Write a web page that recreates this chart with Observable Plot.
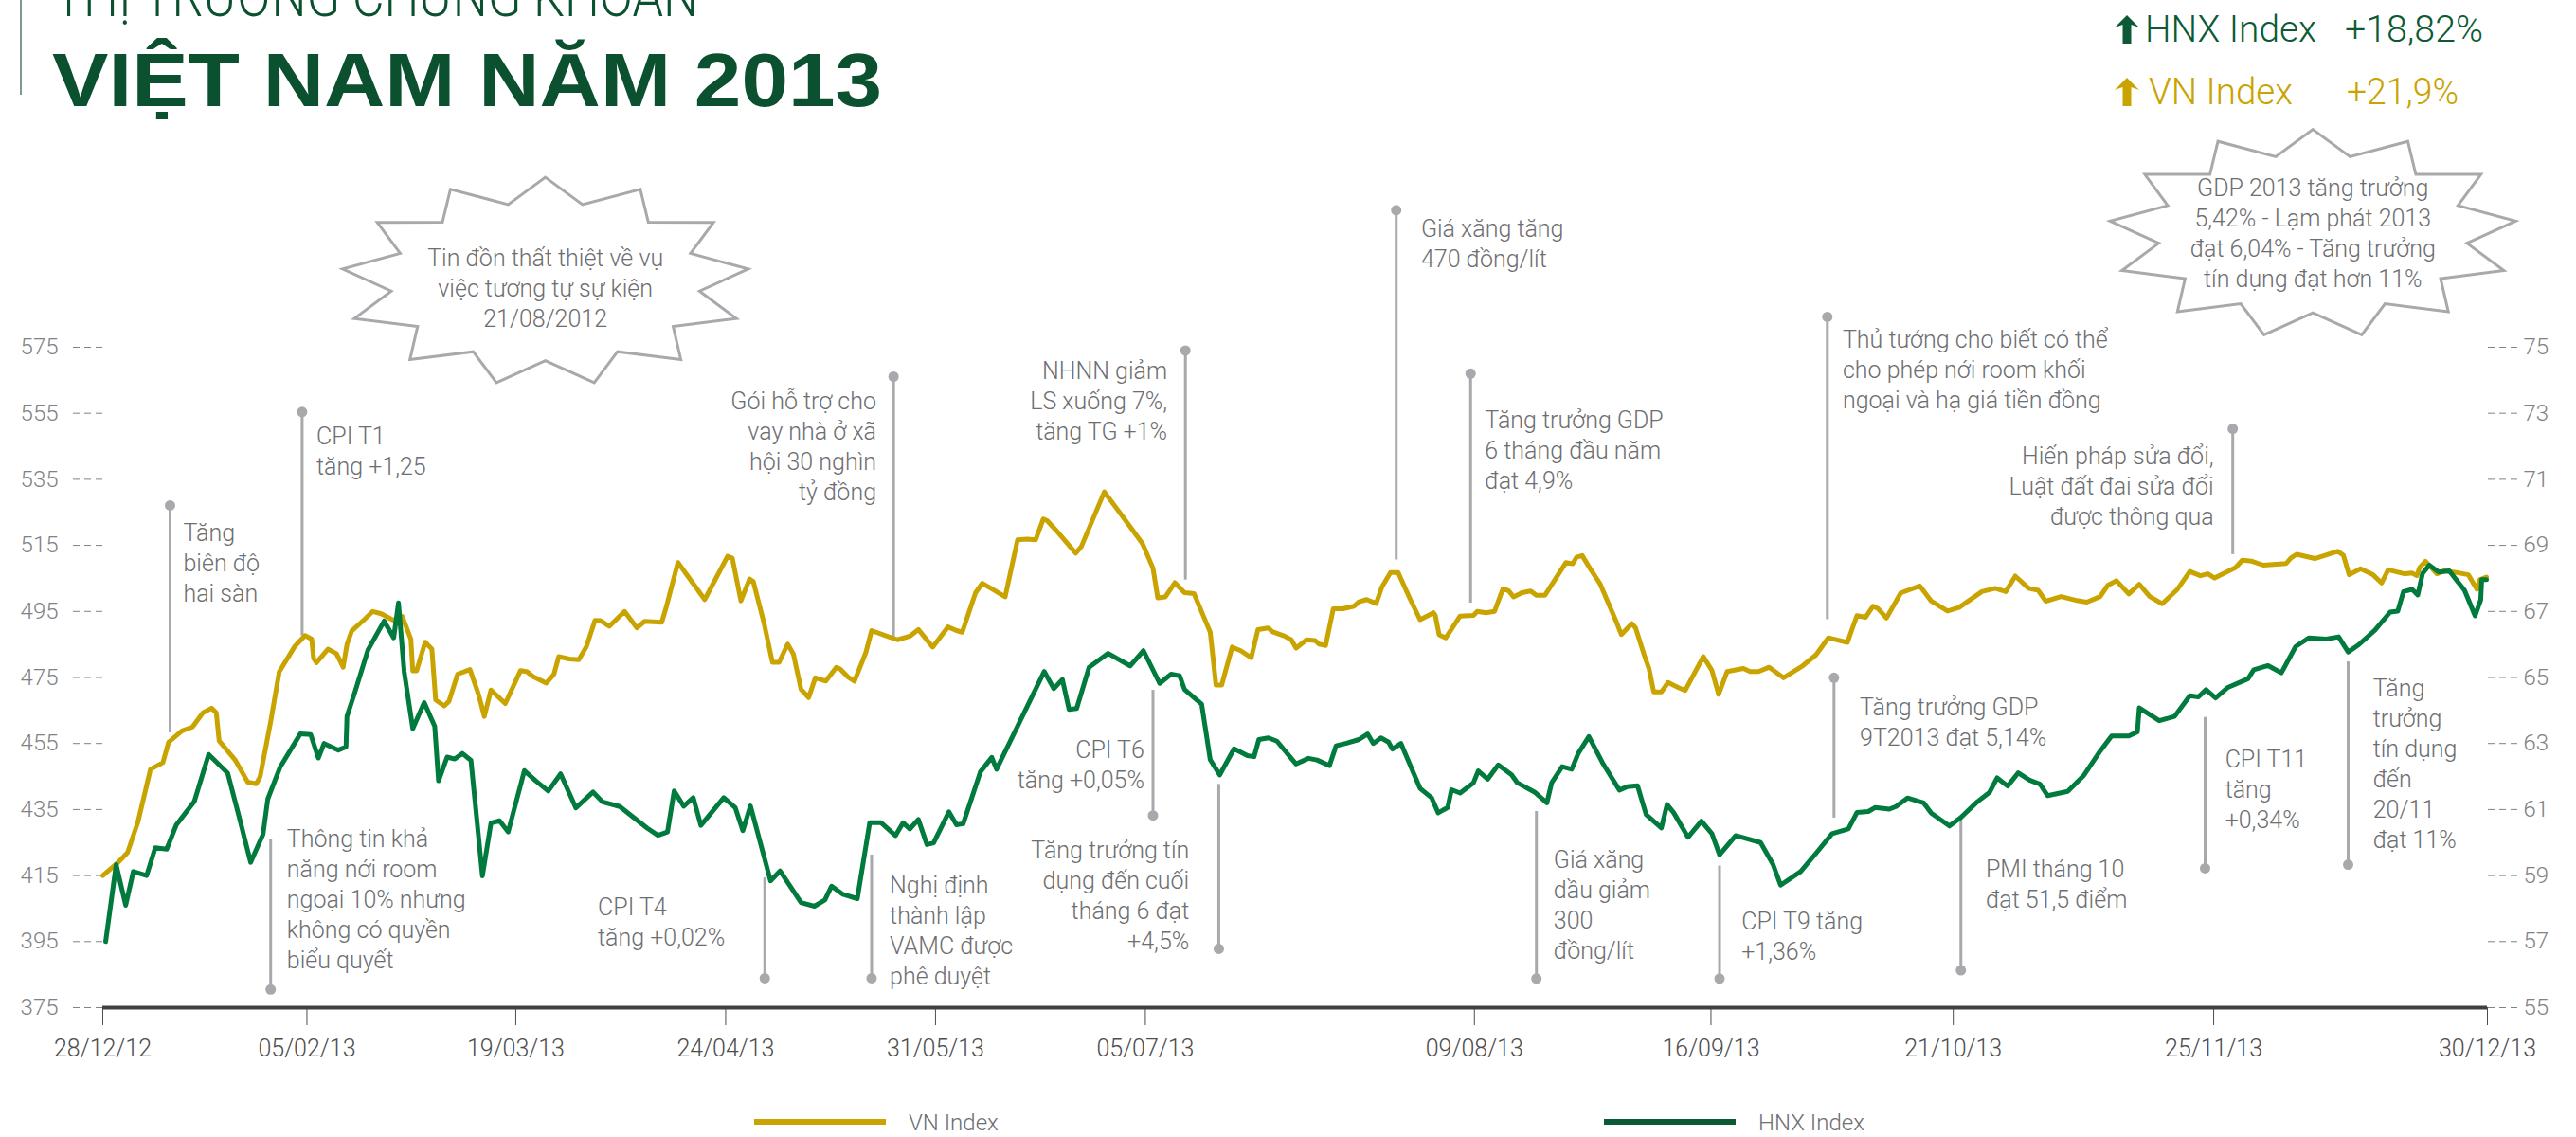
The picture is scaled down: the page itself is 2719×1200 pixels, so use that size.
<!DOCTYPE html>
<html><head><meta charset="utf-8">
<script src="https://cdn.jsdelivr.net/npm/d3@7"></script>
<script src="https://cdn.jsdelivr.net/npm/@observablehq/plot@0.6"></script>
<style>
html,body{margin:0;padding:0;background:#fff;width:2719px;height:1200px;overflow:hidden;}
#wrap{position:relative;width:2719px;height:1200px;}
#chart{position:absolute;left:0;top:0;}
#overlay{position:absolute;left:0;top:0;}
</style></head>
<body><div id="wrap"><div id="chart"></div>
<svg id="overlay" width="2719" height="1200" xmlns="http://www.w3.org/2000/svg"></svg></div>
<script>
// ---- axis data ----
const tickPos = [0, 21.4, 43.3, 65.3, 87.3, 109.3, 143.8, 168.6, 194, 221.3, 250];
const tickLabels = ["28/12/12","05/02/13","19/03/13","24/04/13","31/05/13","05/07/13","09/08/13","16/09/13","21/10/13","25/11/13","30/12/13"];
const yTicks = [375,395,415,435,455,475,495,515,535,555,575];

// ---- VN Index (session position, value) ----
const vnPos = [0,1.5,2.6,3.7,5,6.3,6.9,8.3,9.4,10.5,11.4,11.9,12.2,13.9,15.2,16.1,16.5,17.6,18.5,20.1,21.2,21.9,22.1,22.4,23.6,24.5,25.2,25.6,26.1,27.4,28.3,29.2,30.5,31.4,32.3,32.5,32.9,33.8,34.5,34.9,35.8,36.3,37.2,38.5,39.4,40,40.7,42.2,43.8,44.5,45.1,46.5,47.3,47.8,48.9,49.9,50.7,51.6,52.2,53.1,
54.7,56,56.8,58.6,59.1,60.3,63.1,65.5,66,66.9,67.8,68.2,69.3,70.2,70.9,71.8,72.4,73.2,74,74.7,75.8,76.9,77.3,78.1,78.8,80,80.6,82.2,83.3,84.6,85.5,87,88.6,89.5,90.1,91.5,92.2,93.4,94.6,95.9,96.9,97.8,98.6,99,99.9,102,102.6,105,107,109,110.1,110.6,111.4,112.4,113.4,114.4,116.1,116.4,116.7,117.3,118.4,
119.3,120.4,121.1,122.2,122.6,123.9,124.6,125.1,126.2,127.1,127.5,128.2,129,130,131.2,131.7,132.5,133.5,134.1,135,135.8,137,138.1,139.5,139.7,140.1,140.8,142.3,143.7,144.1,145,145.9,146.8,147.4,147.9,148.8,149.7,150.3,151.2,153.4,154.1,154.5,155.1,155.9,157,158.7,159.2,160.3,160.7,161.6,162.1,162.6,163.4,164.1,165.2,165.9,167.8,168.7,169.4,170.3,172,172.7,173.6,174.7,176.2,178.2,179.6,180.9,182.9,
183.4,183.9,184.8,185.6,186.1,187,188.5,190.5,191.7,193.4,194.6,197,198.4,199.5,200.5,201.9,202.9,203.7,205.3,206.8,208,209.4,210.2,211.1,212.4,213.5,214.6,215.9,217.5,218.8,219.9,220.7,221.4,223.6,224.3,225.3,226.5,228.9,229.4,230,231.9,234.3,234.9,235.5,236.7,238,238.9,239.6,241.3,242.1,242.6,242.9,243.5,244.7,245.5,246.7,248,248.9,249.2,249.9];
const vnValue = [415,418.7,422,431.4,447.2,449.2,455.4,458.8,460,464.3,465.7,464.3,455.8,449.9,443.3,442.8,445,461.6,476.7,484.3,487.7,486.6,480.8,479.5,483.6,482.2,478.1,485,489.1,492.5,495,494.3,492.3,493.5,486.6,477,477,485.7,483.6,468.2,466.4,467.8,476,477.4,469.8,463.2,471.2,467.1,477.1,476.7,475.3,473.3,476,481.3,480.6,480.4,484.3,492.3,492.2,490.5,
495,490,492,491.7,496.6,509.8,498.6,511.7,511.1,498.2,504.8,504,491.7,479.6,479.6,485.1,482.1,471.4,468.9,474.9,473.9,478.1,477.6,475.2,473.9,482.6,489.2,487.5,486.4,487.5,489.5,484.2,490.3,489.2,488.7,500.7,503.5,501.5,499.4,516.7,516.9,516.7,523,522.5,519.7,512.6,514.7,531.2,523.4,515.5,508.1,499.1,499.4,503.7,500.7,500.4,488.7,480.9,472.7,472.7,484.2,
483.1,481,489.5,490,488.9,487.5,486.4,483.9,486.4,486.2,485.1,484.7,495.8,495.8,496.6,497.9,498.6,497.4,502.4,506.8,506.8,499.1,492.5,494.6,493.8,487.9,487,493.6,493.8,495,494.6,495,501.9,501.2,499.4,500.7,501.2,499.9,499.9,509.8,509.4,511.4,511.9,508.1,503.2,491.7,488,491.3,490,481.8,477.7,470.6,470.6,473.5,471.9,471.1,481.3,477.1,469.9,476.8,477.7,476.8,476.8,478.1,474.9,478.5,481.8,487,485.6,
489.7,493.7,493.2,496.6,495.9,493,500.6,502.7,498.1,495.1,496.2,501,502,501,505.7,502,501.4,498.1,499.5,498.4,497.8,499.5,502.9,504.3,500.3,503.2,499.5,497.3,501.7,507.1,505.8,506.4,505.1,508.3,510.5,510.2,509,509.5,511.2,512.3,511,513.2,512,506.1,507.9,506.1,503.6,507.6,506.4,506.6,505.8,508.3,510.2,506.4,507.3,506.8,506.1,501.7,504.6,505.4];

// ---- HNX Index (session position, value) ----
const hnxPos = [0.3,1.4,2.4,3.2,4.6,5.5,6.7,7.7,9.6,11.1,13.1,14.3,15.5,16.8,17.3,18.6,20.7,21.8,22.6,23.2,24.7,25.5,25.6,26.5,27.8,29.5,30.5,31,31.6,32.5,33.7,34.8,35.2,36.1,36.9,37.7,38.6,39.8,40.7,41.6,42.5,44.2,45.4,46.7,48,49.6,51.4,52.4,54.2,57.1,58.2,
59.2,59.9,60.9,61.9,62.7,65.1,66.3,67.1,67.9,70,71,73.2,74.6,75.7,76.4,77.6,79.1,80.4,81.6,83.1,83.9,84.6,85.5,86.4,87.1,88.7,89.5,90.2,92,93.2,93.7,98.7,99.7,100.6,101.3,102.1,103.4,105.4,107.7,109.1,110.8,112,112.9,113.4,115.2,115.6,116.1,117.1,118.6,
120,120.7,121.2,122.2,123.1,125.1,126.4,127.3,128.6,129.3,130.4,131.7,132.6,133.2,134,134.8,135.2,136.1,138.1,139.3,140,141,141.4,142.3,143.7,144.2,145.2,146.3,147.7,148.3,150.1,151.4,151.9,153,154,154.7,155.8,157.3,159,159.8,160.9,161.8,163.4,164,164.7,166.2,167.6,168.7,169.5,171.2,173.8,175.1,175.9,178,179.6,181.3,183,
183.9,185.1,185.8,187.3,188,189.2,190.9,191.7,193.6,194.8,196.5,197.8,198.6,199.7,200.8,202,203.1,203.9,206,207.7,209.4,210.6,212.4,213.3,213.5,215.6,217.2,218.8,219.7,220.5,221.5,222.8,224.9,225.5,227,228.4,229.9,231.3,233.1,234.4,235.4,236.5,238.2,239.8,240.6,241.2,242.1,242.7,243.2,243.9,244.9,246,247.6,248.7,249.3,249.4,249.9];
const hnxValue = [57,59.33,58.1,59.12,59,59.84,59.8,60.53,61.25,62.67,62.1,60.77,59.4,60.25,61.32,62.29,63.29,63.27,62.56,63,62.8,62.9,63.82,64.62,65.83,66.71,66.2,67.26,65.17,63.45,64.24,63.52,61.87,62.59,62.53,62.7,62.49,58.99,60.59,60.66,60.32,62.18,61.87,61.56,62.08,61.05,61.53,61.23,61.09,60.43,60.22,
60.32,61.56,61.1,61.36,60.52,61.36,61.06,60.36,61.11,58.84,59.14,58.18,58.07,58.26,58.68,58.43,58.3,60.6,60.6,60.21,60.6,60.41,60.7,59.94,59.99,60.93,60.54,60.57,62.14,62.58,62.22,65.18,64.66,64.94,64.03,64.06,65.31,65.73,65.35,65.81,64.82,65.1,65.05,64.64,64.19,63.45,62.51,62.05,62.84,
62.63,62.6,63.12,63.17,63.07,62.38,62.55,62.5,62.33,62.93,63.01,63.12,63.29,63,63.17,63.04,62.83,63,61.64,61.36,60.9,61.06,61.6,61.5,61.81,62.17,61.92,62.35,62.05,61.81,61.53,61.2,61.81,62.3,62.22,62.71,63.21,62.38,61.59,61.69,61.72,60.85,60.44,61.15,60.9,60.16,60.65,60.27,59.63,60.21,60,59.34,58.71,59.12,59.67,60.27,60.41,
60.91,60.94,61.06,61.01,61.09,61.35,61.2,60.89,60.5,60.76,61.23,61.52,61.96,61.71,62.11,61.89,61.77,61.42,61.55,62.04,62.77,63.23,63.23,63.35,64.08,63.69,63.82,64.45,64.41,64.63,64.38,64.7,64.96,65.23,65.36,65.14,65.94,66.2,66.16,66.23,65.77,65.99,66.43,66.98,67.01,67.6,67.67,67.5,68.15,68.4,68.19,68.23,67.64,66.87,67.35,67.96,67.96];

// ---- annotations (session position; values on VN scale) ----
const notes = [
  {x:7.05, dot:527.1, end:458.2, tx:8.44, ty:522.8, align:"start", text:"Tăng\nbiên độ\nhai sàn"},
  {x:20.9, dot:555.4, end:487.6, tx:22.4, ty:552, align:"start", text:"CPI T1\ntăng +1,25"},
  {x:17.6, dot:380.5, end:425.8, tx:19.3, ty:430.1, align:"start", text:"Thông tin khả\nnăng nới room\nngoại 10% nhưng\nkhông có quyền\nbiểu quyết"},
  {x:69.4, dot:383.9, end:414.3, tx:51.9, ty:409.4, align:"start", text:"CPI T4\ntăng +0,02%"},
  {x:82.9, dot:566.1, end:487.1, tx:81.1, ty:562.7, align:"end", text:"Gói hỗ trợ cho\nvay nhà ở xã\nhội 30 nghìn\ntỷ đồng"},
  {x:80.6, dot:383.9, end:421.2, tx:82.5, ty:416, align:"start", text:"Nghị định\nthành lập\nVAMC được\nphê duyệt"},
  {x:113.5, dot:574, end:504.5, tx:111.6, ty:572, align:"end", text:"NHNN giảm\nLS xuống 7%,\ntăng TG +1%"},
  {x:110.1, dot:433.2, end:471.1, tx:109.2, ty:457.2, align:"end", text:"CPI T6\ntăng +0,05%"},
  {x:117, dot:392.8, end:442.6, tx:113.9, ty:426.7, align:"end", text:"Tăng trưởng tín\ndụng đến cuối\ntháng 6 đạt\n+4,5%"},
  {x:135.6, dot:616.5, end:510.6, tx:138.2, ty:614.9, align:"start", text:"Giá xăng tăng\n470 đồng/lít"},
  {x:143.4, dot:567, end:497.5, tx:144.9, ty:556.9, align:"start", text:"Tăng trưởng GDP\n6 tháng đầu năm\nđạt 4,9%"},
  {x:150.3, dot:383.8, end:434.4, tx:152.1, ty:423.9, align:"start", text:"Giá xăng\ndầu giảm\n300\nđồng/lít"},
  {x:169.5, dot:383.8, end:417.9, tx:171.8, ty:405.3, align:"start", text:"CPI T9 tăng\n+1,36%"},
  {x:180.8, dot:584.2, end:492.5, tx:182.4, ty:581.4, align:"start", text:"Thủ tướng cho biết có thể\ncho phép nới room khối\nngoại và hạ giá tiền đồng"},
  {x:181.5, dot:474.9, end:432.4, tx:184.2, ty:470, align:"start", text:"Tăng trưởng GDP\n9T2013 đạt 5,14%"},
  {x:194.8, dot:386.3, end:432.2, tx:197.4, ty:420.9, align:"start", text:"PMI tháng 10\nđạt 51,5 điểm"},
  {x:223.3, dot:550.3, end:512.2, tx:221.3, ty:546, align:"end", text:"Hiến pháp sửa đổi,\nLuật đất đai sửa đổi\nđược thông qua"},
  {x:220.4, dot:417.2, end:462.9, tx:222.5, ty:454.2, align:"start", text:"CPI T11\ntăng\n+0,34%"},
  {x:235.4, dot:418.3, end:479.7, tx:238, ty:475.7, align:"start", text:"Tăng\ntrưởng\ntín dụng\nđến\n20/11\nđạt 11%"}
];
const bursts = [
  {x:46.4, y:594.9, ty:593.4, text:"Tin đồn thất thiệt về vụ\nviệc tương tự sự kiện\n21/08/2012"},
  {x:231.7, y:609.4, ty:609.9, text:"GDP 2013 tăng trưởng\n5,42% - Lạm phát 2013\nđạt 6,04% - Tăng trưởng\ntín dụng đạt hơn 11%"}
];

const VN_COLOR = "#c9a300", HNX_COLOR = "#007a3d", HNX_DARK = "#0b5a35", TITLE = "#0b5130";
const GREY = "#6d6e71", LEAD = "#a7a9ac";

const vn = vnPos.map((p, i) => ({x: p, v: vnValue[i]}));
const hnx = hnxPos.map((p, i) => ({x: p, v: hnxValue[i]}));
const labelOf = new Map(tickPos.map((p, i) => [p, tickLabels[i]]));
const hnxToLeft = h => 375 + 10 * (h - 55);

const star = {
  draw(ctx, size) {
    const r = Math.sqrt(size / Math.PI), n = 13;
    for (let k = 0; k < 2 * n; k++) {
      const a = -Math.PI / 2 + k * Math.PI / n;
      const f = k % 2 ? 0.76 : 1;
      const px = Math.cos(a) * r * 1.96 * f, py = Math.sin(a) * r * f;
      if (k) ctx.lineTo(px, py); else ctx.moveTo(px, py);
    }
    ctx.closePath();
  }
};

const textStyle = {lineAnchor: "top", lineHeight: 1.28, fontSize: 25, fill: GREY};

const chart = Plot.plot({
  width: 2719, height: 1200,
  marginLeft: 108, marginRight: 94, marginTop: 104.6, marginBottom: 137,
  x: {domain: [0, 250]},
  y: {domain: [375, 650]},
  style: {fontFamily: "Roboto, 'Open Sans', sans-serif", fontWeight: 300, background: "transparent", overflow: "visible"},
  marks: [
    Plot.axisX({ticks: tickPos, tickFormat: d => labelOf.get(d), tickSize: 19, tickPadding: 15, fontSize: 25, color: "#4d4d4d", label: null}),
    Plot.axisY({ticks: yTicks, tickFormat: d => String(d), tickSize: 33, tickPadding: 14, fontSize: 24, color: "#808285", strokeDasharray: "7,5", label: null}),
    Plot.axisY({anchor: "right", ticks: yTicks, tickFormat: d => String(55 + (d - 375) / 10), tickSize: 33, tickPadding: 5, fontSize: 24, color: "#808285", strokeDasharray: "7,5", label: null}),
    Plot.ruleY([375], {stroke: "#404040", strokeWidth: 4}),
    Plot.ruleX(notes, {x: "x", y1: "dot", y2: "end", stroke: LEAD, strokeWidth: 3}),
    Plot.dot(notes, {x: "x", y: "dot", r: 5.5, fill: LEAD}),
    Plot.text(notes.filter(d => d.align === "start"), {x: "tx", y: "ty", text: "text", textAnchor: "start", ...textStyle}),
    Plot.text(notes.filter(d => d.align === "end"), {x: "tx", y: "ty", text: "text", textAnchor: "end", ...textStyle}),
    Plot.dot(bursts, {x: "x", y: "y", r: 110, symbol: star, fill: "white", stroke: LEAD, strokeWidth: 3}),
    Plot.text(bursts, {x: "x", y: "ty", text: "text", lineAnchor: "middle", lineHeight: 1.28, fontSize: 25, fill: GREY}),
    Plot.line(vn, {x: "x", y: "v", stroke: VN_COLOR, strokeWidth: 5}),
    Plot.line(hnx, {x: "x", y: d => hnxToLeft(d.v), stroke: HNX_COLOR, strokeWidth: 5})
  ]
});
document.getElementById("chart").appendChild(chart);

// ---- header, top legend, bottom legend ----
const ov = d3.select("#overlay");
ov.append("line").attr("x1", 22).attr("x2", 22).attr("y1", 0).attr("y2", 100).attr("stroke", "#7d9a8b").attr("stroke-width", 2);
ov.append("text").attr("x", 57).attr("y", 17).attr("font-family", "Roboto").attr("font-weight", 300)
  .attr("font-size", 62).attr("fill", TITLE).attr("textLength", 680).attr("lengthAdjust", "spacingAndGlyphs")
  .text("THỊ TRƯỜNG CHỨNG KHOÁN");
ov.append("text").attr("x", 55).attr("y", 112).attr("font-family", "'Liberation Sans', Arial, sans-serif").attr("font-weight", 700)
  .attr("font-size", 80).attr("fill", TITLE).attr("textLength", 876).attr("lengthAdjust", "spacingAndGlyphs")
  .text("VIỆT NAM NĂM 2013");

function arrow(x, yTop, color) {
  const w = 26, h = 30;
  ov.append("path").attr("fill", color)
    .attr("d", `M${x + w / 2},${yTop} L${x + w},${yTop + 13} L${x + w / 2 + 4.5},${yTop + 10} L${x + w / 2 + 4.5},${yTop + h} L${x + w / 2 - 4.5},${yTop + h} L${x + w / 2 - 4.5},${yTop + 10} L${x},${yTop + 13} Z`);
}
const legTop = [
  {name: "HNX Index", pct: "+18,82%", color: HNX_DARK, base: 44, nx: 2264, nw: 181, px: 2475, pw: 146},
  {name: "VN Index", pct: "+21,9%", color: VN_COLOR, base: 110, nx: 2268, nw: 152, px: 2477, pw: 118}
];
legTop.forEach(d => {
  arrow(2232, d.base - 28, d.color);
  ov.append("text").attr("x", d.nx).attr("y", d.base).attr("font-family", "Roboto").attr("font-weight", 300)
    .attr("font-size", 38).attr("fill", d.color).attr("textLength", d.nw).attr("lengthAdjust", "spacingAndGlyphs").text(d.name);
  ov.append("text").attr("x", d.px).attr("y", d.base).attr("font-family", "Roboto").attr("font-weight", 300)
    .attr("font-size", 38).attr("fill", d.color).attr("textLength", d.pw).attr("lengthAdjust", "spacingAndGlyphs").text(d.pct);
});
const legBottom = [
  {name: "VN Index", color: VN_COLOR, x: 796},
  {name: "HNX Index", color: HNX_DARK, x: 1693}
];
legBottom.forEach(d => {
  ov.append("rect").attr("x", d.x).attr("y", 1181).attr("width", 139).attr("height", 6).attr("fill", d.color);
  ov.append("text").attr("x", d.x + 163).attr("y", 1193).attr("font-family", "Roboto").attr("font-weight", 300)
    .attr("font-size", 24).attr("fill", GREY).text(d.name);
});
</script></body></html>
